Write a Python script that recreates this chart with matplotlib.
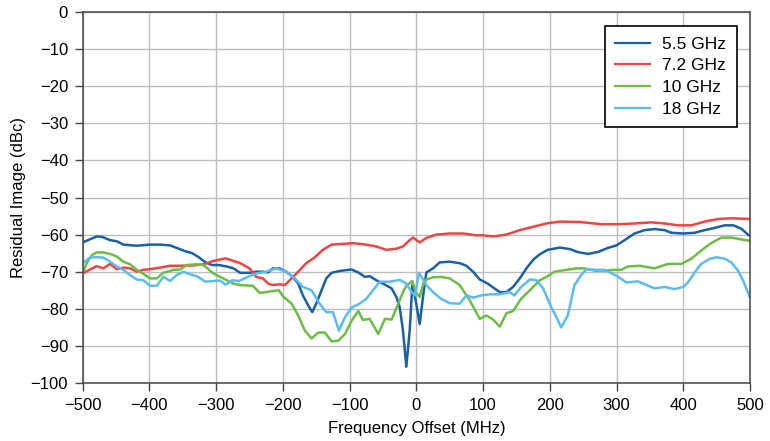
import matplotlib
matplotlib.use("Agg")
import matplotlib.pyplot as plt

# 5.5 GHz
f55 = [-500, -479, -471, -459, -449, -439, -419, -399, -384, -369, -359, -346, -336, -326, -316,
       -306, -296, -284, -274, -264, -250, -240, -230, -222, -215, -205, -195, -185, -177, -170,
       -162, -156, -150, -142, -135, -127, -115, -97, -87, -77, -70, -60, -50, -37, -30, -25,
       -20, -15, -10, -6, -1, 5, 10, 15, 25, 35, 50, 65, 75, 85, 95, 107, 117, 125, 135, 145,
       155, 165, 175, 185, 197, 215, 230, 242, 257, 272, 287, 300, 312, 327, 342, 357, 372,
       382, 400, 417, 432, 447, 462, 475, 487, 497, 500]
db55 = [-62.1, -60.5, -60.6, -61.5, -61.8, -62.7, -63.0, -62.7, -62.7, -62.9, -63.6, -64.5, -65.0,
        -66.1, -67.5, -68.2, -68.2, -68.6, -69.1, -70.3, -70.3, -70.0, -70.0, -70.2, -69.1, -69.1,
        -70.0, -71.4, -73.2, -76.4, -79.1, -80.9, -78.6, -75.0, -71.8, -70.3, -69.8, -69.4, -70.2,
        -71.4, -71.2, -72.3, -73.2, -74.5, -76.8, -79.5, -85.9, -95.6, -85.9, -73.6, -77.7, -84.1,
        -76.8, -70.2, -69.1, -67.5, -67.3, -67.7, -68.4, -70.0, -72.1, -73.2, -74.5, -75.5, -75.5,
        -74.1, -71.8, -69.1, -66.8, -65.3, -64.1, -63.5, -63.9, -64.7, -65.2, -64.7, -63.6, -62.9,
        -61.5, -59.7, -58.8, -58.5, -58.8, -59.5, -59.7, -59.5, -58.8, -58.2, -57.5, -57.5, -58.4,
        -60.0, -60.3]

# 7.2 GHz
f72 = [-500, -489, -479, -469, -459, -449, -439, -429, -419, -409, -399, -384, -369, -354, -334,
       -319, -304, -286, -274, -264, -250, -240, -230, -222, -215, -205, -197, -187, -177, -165,
       -152, -140, -127, -110, -95, -75, -60, -45, -30, -20, -10, -5, 5, 15, 30, 50, 70, 90,
       100, 115, 135, 155, 175, 195, 215, 245, 277, 302, 327, 352, 372, 392, 412, 432, 452,
       472, 500]
db72 = [-70.5, -69.4, -68.5, -69.1, -67.9, -69.3, -68.9, -69.1, -70.0, -69.5, -69.3, -68.9, -68.4,
        -68.4, -68.3, -68.0, -67.1, -66.4, -67.1, -67.7, -69.1, -71.4, -71.8, -73.2, -73.6, -73.4,
        -73.6, -71.8, -70.0, -67.7, -66.1, -64.1, -62.7, -62.5, -62.3, -62.7, -63.2, -64.1, -63.8,
        -63.2, -61.5, -60.8, -62.1, -60.9, -60.0, -59.7, -59.7, -60.2, -60.2, -60.5, -60.0, -58.8,
        -57.9, -57.0, -56.5, -56.6, -57.2, -57.2, -57.0, -56.7, -57.0, -57.5, -57.5, -56.5, -55.8,
        -55.6, -55.8]

# 10 GHz
f10 = [-500, -494, -486, -479, -469, -459, -449, -439, -429, -419, -409, -399, -389, -379, -364,
       -354, -344, -329, -319, -304, -294, -284, -274, -264, -245, -235, -225, -215, -206, -200,
       -187, -177, -167, -157, -147, -137, -127, -117, -107, -97, -87, -80, -70, -57, -47, -37,
       -27, -20, -15, -6, -1, 5, 12, 25, 37, 50, 65, 80, 95, 105, 115, 125, 135, 145, 157, 170,
       185, 195, 207, 225, 240, 252, 267, 282, 297, 307, 317, 335, 357, 377, 397, 412, 427, 440,
       457, 472, 500]
db10 = [-70.3, -67.7, -65.5, -64.8, -64.8, -65.2, -65.9, -67.3, -68.0, -69.5, -70.6, -71.8, -71.8,
        -70.3, -69.5, -69.4, -68.2, -68.0, -68.2, -70.5, -71.4, -72.3, -73.2, -73.6, -73.8, -75.7,
        -75.5, -75.2, -75.0, -76.6, -78.6, -81.8, -85.9, -88.0, -86.4, -86.4, -88.8, -88.6, -86.8,
        -83.2, -80.6, -83.0, -82.7, -86.8, -82.7, -82.9, -78.6, -75.5, -73.8, -72.5, -75.5, -76.8,
        -72.3, -71.5, -71.4, -71.8, -73.6, -77.7, -82.7, -81.8, -82.9, -84.8, -81.2, -80.6, -77.3,
        -75.0, -72.3, -71.4, -70.0, -69.5, -69.1, -69.1, -69.7, -69.7, -69.5, -69.5, -68.6, -68.4,
        -69.1, -67.9, -67.9, -66.5, -64.3, -62.5, -60.8, -60.8, -61.7]

# 18 GHz
f18 = [-500, -489, -479, -469, -459, -449, -439, -429, -419, -409, -399, -389, -379, -369, -359,
       -349, -339, -329, -316, -304, -294, -286, -276, -266, -250, -240, -225, -210, -195, -182,
       -170, -157, -145, -135, -125, -116, -107, -97, -85, -75, -65, -55, -40, -25, -15, -7, -2,
       4, 15, 25, 37, 50, 65, 75, 85, 97, 110, 125, 140, 147, 157, 170, 180, 190, 202, 210, 217,
       227, 237, 247, 255, 267, 282, 300, 315, 332, 357, 372, 387, 400, 407, 417, 427, 440, 450,
       462, 472, 482, 490, 500]
db18 = [-67.7, -66.2, -66.1, -66.2, -67.3, -68.6, -69.5, -70.9, -72.1, -72.3, -73.8, -73.8, -71.4,
        -72.5, -70.9, -70.0, -70.7, -71.2, -72.7, -72.5, -72.4, -73.5, -72.3, -72.5, -71.2, -70.5,
        -70.0, -69.1, -70.0, -71.8, -74.1, -75.0, -78.6, -80.9, -80.9, -85.9, -82.3, -79.7, -78.6,
        -77.3, -75.0, -72.7, -72.7, -72.2, -73.2, -75.5, -76.4, -70.3, -73.6, -75.5, -77.3, -78.5,
        -78.6, -76.4, -77.0, -76.4, -76.1, -76.1, -75.5, -76.4, -74.1, -72.1, -72.3, -74.5, -79.5,
        -82.3, -85.0, -81.8, -73.6, -70.9, -69.3, -69.5, -69.5, -71.1, -72.9, -72.6, -74.5, -74.1,
        -74.7, -74.1, -72.9, -70.2, -67.9, -66.5, -66.1, -66.5, -67.5, -69.7, -72.5, -77.0]

labels = ["5.5 GHz", "7.2 GHz", "10 GHz", "18 GHz"]
colors = ["#1a60a6", "#ef4444", "#6cbd45", "#5bbcef"]

plt.rcParams["font.family"] = ["Liberation Sans Narrow", "Liberation Sans", "DejaVu Sans"]

fig = plt.figure(figsize=(7.7, 4.41), dpi=100)
ax = fig.add_axes([0.1074, 0.1315, 0.8666, 0.8413])

for fx, dbx, lab, c in zip([f55, f72, f10, f18], [db55, db72, db10, db18], labels, colors):
    ax.plot(fx, dbx, color=c, lw=1.8, label=lab)

ax.set_xlim(-500, 500)
ax.set_ylim(-100, 0)
ax.set_xticks(range(-500, 501, 100))
ax.set_yticks(range(-100, 1, 10))
ax.set_xticklabels([str(v).replace("-", "\u2212") for v in range(-500, 501, 100)])
ax.set_yticklabels([str(v).replace("-", "\u2212") for v in range(-100, 1, 10)])
ax.grid(True, color="#bdbdbd", lw=1)
ax.set_axisbelow(True)
ax.tick_params(direction="out", length=5.5, width=1, pad=5, labelsize=12,
               color="#444444", labelcolor="black")

for s in ["left", "bottom", "right", "top"]:
    ax.spines[s].set_color("#444444")
    ax.spines[s].set_linewidth(1.1)

ax.set_xlabel("Frequency Offset (MHz)", fontsize=12, labelpad=6)
ax.set_ylabel("Residual Image (dBc)", fontsize=12, labelpad=3)

leg = ax.legend(loc="upper right", bbox_to_anchor=(0.980, 0.962), fancybox=False,
                edgecolor="black", framealpha=1, handlelength=2.0, handletextpad=0.7,
                borderpad=0.6, labelspacing=0.38, borderaxespad=0,
                prop={"family": ["Liberation Sans", "DejaVu Sans"], "size": 12.5})
leg.get_frame().set_linewidth(1.2)
for h in leg.get_lines():
    h.set_linewidth(1.6)

fig.savefig("out.png", dpi=100)
